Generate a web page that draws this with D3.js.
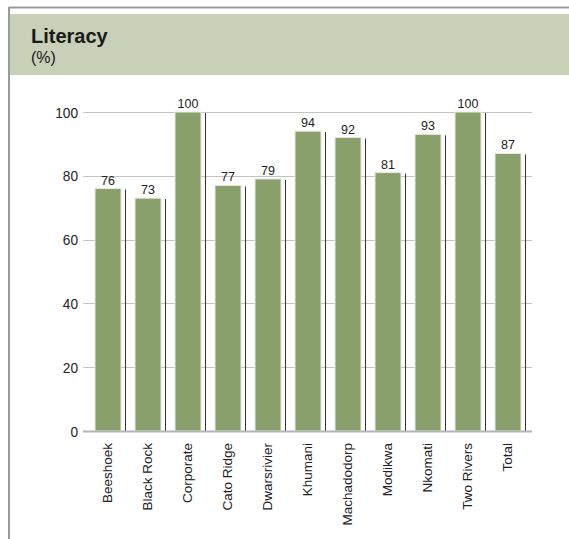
<!DOCTYPE html>
<html><head><meta charset="utf-8">
<script src="https://cdn.jsdelivr.net/npm/d3@7"></script>
<style>body{margin:0;background:#fff;}svg{display:block;font-family:"Liberation Sans",Arial,sans-serif;}</style>
</head><body>
<svg id="c" width="569" height="539"></svg>
<script>
const categories = ["Beeshoek","Black Rock","Corporate","Cato Ridge","Dwarsrivier","Khumani","Machadodorp","Modikwa","Nkomati","Two Rivers","Total"];
const values = [76,73,100,77,79,94,92,81,93,100,87];
const yTicks = [0,20,40,60,80,100];
const title = "Literacy";
const subtitle = "(%)";

const svg = d3.select("#c");
// frame
svg.append("rect").attr("x",10).attr("y",14).attr("width",559).attr("height",61).attr("fill","#c8d0b8");
svg.append("line").attr("x1",9).attr("x2",569).attr("y1",7.5).attr("y2",7.5).attr("stroke","#9a9a9a").attr("stroke-width",2);
svg.append("line").attr("x1",9).attr("x2",9).attr("y1",7).attr("y2",539).attr("stroke","#9a9a9a").attr("stroke-width",2);
svg.append("text").attr("x",31).attr("y",43).attr("font-size",20).attr("font-weight","bold").attr("fill","#1a1a1a").text(title);
svg.append("text").attr("x",31).attr("y",63).attr("font-size",16).attr("fill","#1a1a1a").text(subtitle);

const y = d3.scaleLinear().domain([0,100]).range([431,112]);
const x = d3.scaleBand().domain(categories).range([88,528]).paddingInner(0.35).paddingOuter(0.175);

// grid
svg.append("g").selectAll("line").data(yTicks.filter(d=>d>0)).join("line")
  .attr("x1",83).attr("x2",532).attr("y1",d=>Math.round(y(d))+0.5).attr("y2",d=>Math.round(y(d))+0.5)
  .attr("stroke","#c4c4c4").attr("stroke-width",1);
svg.append("g").selectAll("text").data(yTicks).join("text")
  .attr("x",78).attr("y",d=>y(d)+5.5).attr("text-anchor","end").attr("font-size",15).attr("fill","#222")
  .attr("textLength",d=>String(d).length*7.6).attr("lengthAdjust","spacingAndGlyphs")
  .text(d=>d);

// shadow lines
svg.append("g").selectAll("line").data(values).join("line")
  .attr("x1",(d,i)=>x(categories[i])+x.bandwidth()+4.5).attr("x2",(d,i)=>x(categories[i])+x.bandwidth()+4.5)
  .attr("y1",d=>y(d)+1).attr("y2",y(0)).attr("stroke","#333").attr("stroke-width",1);
// bars
svg.append("g").selectAll("rect").data(values).join("rect")
  .attr("x",(d,i)=>x(categories[i])).attr("width",x.bandwidth())
  .attr("y",d=>y(d)).attr("height",d=>y(0)-y(d))
  .attr("fill","#8aa06c").attr("stroke","#e6ebdc").attr("stroke-width",1);
// value labels
svg.append("g").selectAll("text").data(values).join("text")
  .attr("x",(d,i)=>x(categories[i])+x.bandwidth()/2).attr("y",d=>y(d)-4)
  .attr("text-anchor","middle").attr("font-size",12.5).attr("fill","#222")
  .text(d=>d);
// baseline
svg.append("line").attr("x1",83).attr("x2",532).attr("y1",y(0)+0.5).attr("y2",y(0)+0.5).attr("stroke","#b4b4b4").attr("stroke-width",2);
// category labels
svg.append("g").selectAll("text").data(categories).join("text")
  .attr("transform",d=>`translate(${x(d)+x.bandwidth()/2+4},443) rotate(-90)`)
  .attr("text-anchor","end").attr("font-size",13.5).attr("fill","#222").text(d=>d);
</script>
</body></html>
